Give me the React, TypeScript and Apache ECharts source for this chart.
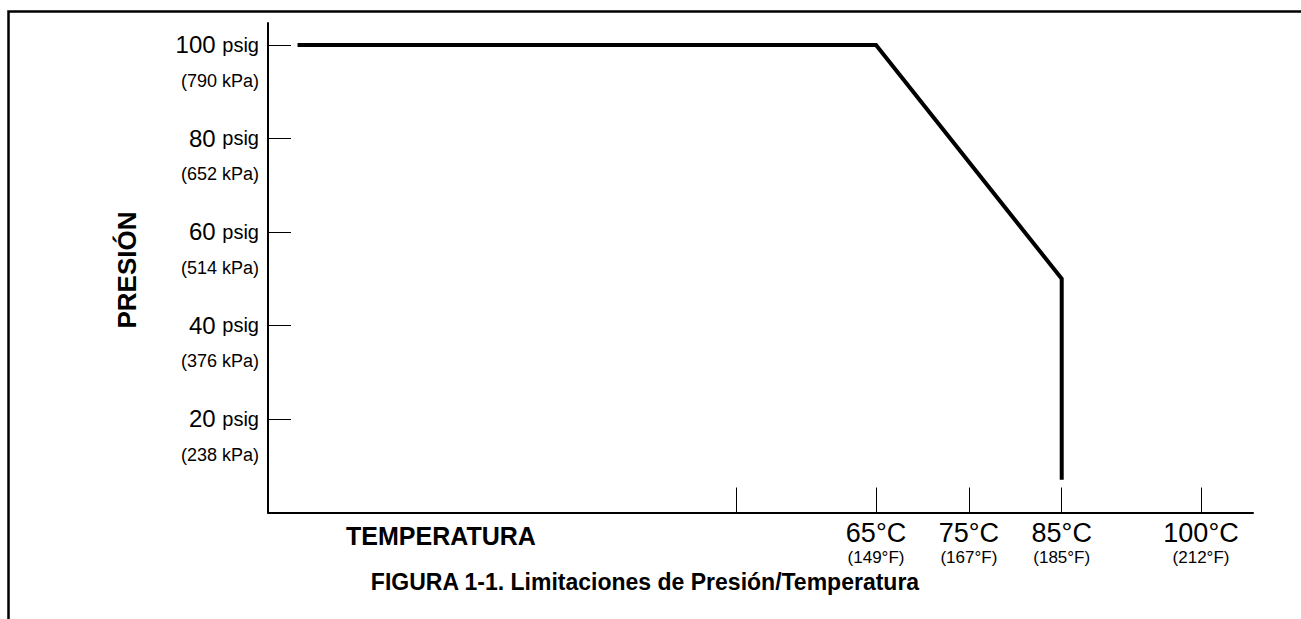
import React, { useEffect, useRef } from "react";
import * as echarts from "echarts";

// Pressure axis (psig) with kPa equivalents
const pressureTicks = [20, 40, 60, 80, 100];
const pressureKpa = ["238", "376", "514", "652", "790"];

// Temperature axis (°C) with °F equivalents
const tempTicks = [50, 65, 75, 85, 100];
const tempCLabels = ["", "65°C", "75°C", "85°C", "100°C"];
const tempFLabels = ["", "(149°F)", "(167°F)", "(185°F)", "(212°F)"];

// Limit curve: [temperature °C, pressure psig]
const limitTemp = [2.7, 65, 85, 85];
const limitPressure = [100, 100, 50, 7];

const FONT = "'Liberation Sans', Arial, Helvetica, sans-serif";

export default function App() {
  const ref = useRef<HTMLDivElement>(null);

  useEffect(() => {
    if (!ref.current) return;
    const chart = echarts.init(ref.current, null, { renderer: "svg" });
    const data = limitTemp.map((t, i) => [t, limitPressure[i]]);

    chart.setOption({
      animation: false,
      backgroundColor: "#ffffff",
      textStyle: { fontFamily: FONT, color: "#000" },
      grid: { left: 268, right: 48, top: 23, bottom: 106.5, containLabel: false },
      xAxis: {
        type: "value",
        min: -0.48,
        max: 105.6,
        axisLine: { show: true, onZero: false, lineStyle: { color: "#000", width: 2 } },
        splitLine: { show: false },
        axisTick: {
          show: true,
          inside: true,
          length: 25,
          customValues: tempTicks,
          lineStyle: { color: "#000", width: 1 },
        },
        axisLabel: {
          show: true,
          customValues: tempTicks,
          margin: 4,
          formatter: (v: number) => {
            const i = tempTicks.indexOf(Math.round(v));
            if (i < 0 || !tempCLabels[i]) return "";
            return `{a|${tempCLabels[i]}}\n{b|${tempFLabels[i]}}`;
          },
          rich: {
            a: { fontSize: 27, lineHeight: 32, color: "#000", fontFamily: FONT },
            b: { fontSize: 17, lineHeight: 18, color: "#000", fontFamily: FONT },
          },
        },
      },
      yAxis: {
        type: "value",
        min: 0,
        max: 104.7,
        axisLine: { show: true, onZero: false, lineStyle: { color: "#000", width: 2 } },
        splitLine: { show: false },
        axisTick: {
          show: true,
          inside: true,
          length: 23,
          customValues: pressureTicks,
          lineStyle: { color: "#000", width: 1 },
        },
        axisLabel: {
          show: true,
          customValues: pressureTicks,
          margin: 9,
          padding: [36, 0, 0, 0],
          formatter: (v: number) => {
            const i = pressureTicks.indexOf(Math.round(v));
            if (i < 0) return "";
            return `{a|${pressureTicks[i]} }{b|psig}\n{c|(${pressureKpa[i]} kPa)}`;
          },
          rich: {
            a: { fontSize: 24, lineHeight: 36, color: "#000", fontFamily: FONT },
            b: { fontSize: 20, lineHeight: 36, color: "#000", fontFamily: FONT },
            c: { fontSize: 18, lineHeight: 36, color: "#000", fontFamily: FONT },
          },
        },
      },
      series: [
        {
          type: "line",
          data,
          symbol: "none",
          silent: true,
          lineStyle: { color: "#000", width: 4, join: "miter", cap: "butt" },
        },
      ],
      graphic: [
        {
          type: "polyline",
          silent: true,
          shape: { points: [[8.5, 619], [8.5, 11.5], [1301, 11.5]] },
          style: { stroke: "#000", lineWidth: 2.5, fill: "none" },
        },
        {
          type: "text",
          x: 127,
          y: 270,
          rotation: Math.PI / 2,
          style: {
            text: "PRESIÓN",
            fontFamily: FONT,
            fontWeight: "bold",
            fontSize: 26,
            fill: "#000",
            align: "center",
            verticalAlign: "middle",
          },
        },
        {
          type: "text",
          x: 441,
          y: 536,
          style: {
            text: "TEMPERATURA",
            fontFamily: FONT,
            fontWeight: "bold",
            fontSize: 25,
            fill: "#000",
            align: "center",
            verticalAlign: "middle",
          },
        },
        {
          type: "text",
          x: 645,
          y: 582,
          style: {
            text: "FIGURA 1-1. Limitaciones de Presión/Temperatura",
            fontFamily: FONT,
            fontWeight: "bold",
            fontSize: 23,
            fill: "#000",
            align: "center",
            verticalAlign: "middle",
          },
        },
      ],
    });

    return () => chart.dispose();
  }, []);

  return (
    <div
      ref={ref}
      style={{ position: "absolute", left: 0, top: 0, width: 1301, height: 619 }}
    />
  );
}
